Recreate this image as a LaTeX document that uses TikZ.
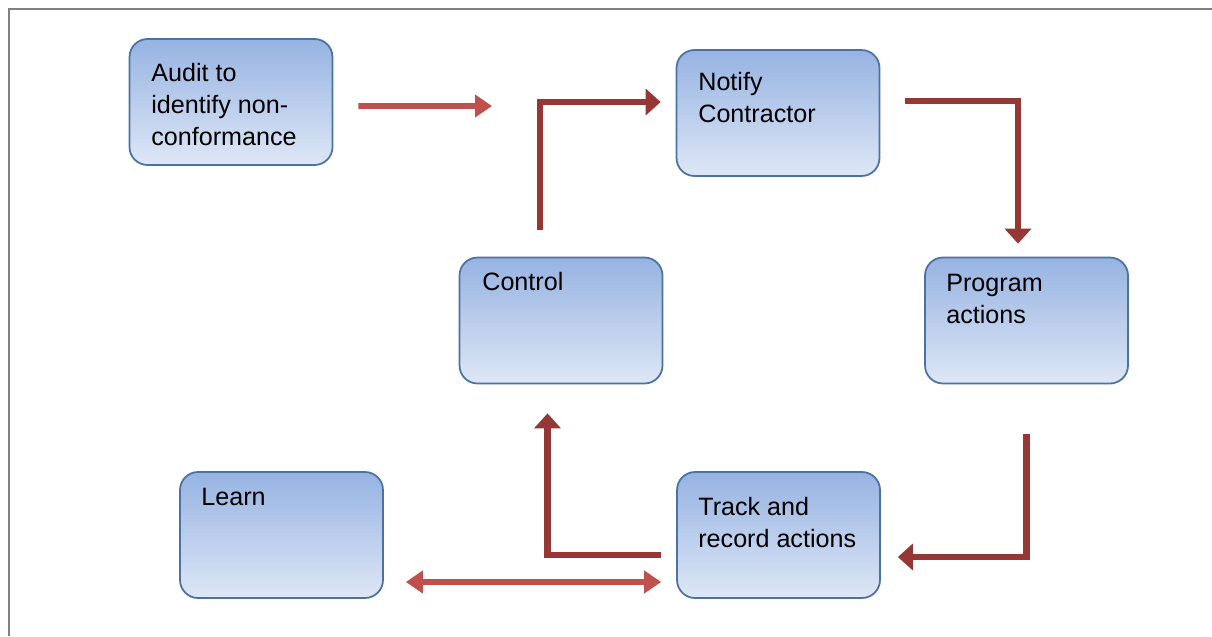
\documentclass[tikz,border=0pt]{standalone}
\usepackage{fontspec}
\setmainfont{Liberation Sans}
\usetikzlibrary{positioning,arrows.meta,calc}
\definecolor{ncTop}{RGB}{150,179,226}
\definecolor{ncBottom}{RGB}{222,231,246}
\definecolor{ncEdge}{RGB}{76,113,163}
\definecolor{ncLight}{RGB}{192,80,77}
\definecolor{ncDark}{RGB}{149,55,53}
\definecolor{ncFrame}{RGB}{128,128,128}

\begin{document}
\begin{tikzpicture}[x=0.02cm, y=-0.02cm,
  stage/.style={rounded corners=0.36cm, draw=ncEdge, line width=1pt,
    top color=ncTop, bottom color=ncBottom,
    minimum width=4.06cm, minimum height=2.52cm, inner sep=0pt},
  stagetext/.style={anchor=north west, align=left, inner sep=0pt,
    font=\fontsize{14.3}{18.2}\selectfont},
  lightarrow/.style={ncLight, line width=3.4pt, -{Triangle[length=0.34cm,width=0.44cm]}},
  darkarrow/.style={ncDark, line width=3.6pt, -{Triangle[length=0.3cm,width=0.52cm]}}]
  \useasboundingbox (0,0) rectangle (1212,636);

  % Frame
  \draw[ncFrame, line width=1.2pt] (9,636) -- (9,9) -- (1212,9);

  % Stages
  \node[stage] (audit)   at (231,102)   {};
  \node[stage] (notify)  at (778,113)   {};
  \node[stage] (control) at (561,320.5) {};
  \node[stage] (program) at (1026.5,320.5) {};
  \node[stage] (learn)   at (281.5,535) {};
  \node[stage] (track)   at (778.5,535) {};

  % Stage texts
  \node[stagetext] (audittxt)   at (151,63)  {Audit to\\identify non-\\conformance};
  \node[stagetext] (notifytxt)  at (698,72)  {Notify\\Contractor};
  \node[stagetext] (controltxt) at (482,272) {Control};
  \node[stagetext] (programtxt) at (946,274) {Program\\actions};
  \node[stagetext] (learntxt)   at (201,488) {Learn};
  \node[stagetext] (tracktxt)   at (698,497) {Track and\\record actions};

  % Cycle
  \coordinate (auditend) at (492,106);
  \draw[lightarrow] ([xshift=0.5cm,yshift=-0.08cm]audit.east) -- (auditend);
  \draw[darkarrow] ([xshift=-0.42cm,yshift=0.54cm]control.north) |- ([xshift=-0.3cm,yshift=0.22cm]notify.west);
  \draw[darkarrow] ([xshift=0.5cm,yshift=0.24cm]notify.east) -| ([xshift=-0.17cm,yshift=0.26cm]program.north);
  \draw[darkarrow] ([yshift=-1.0cm]program.south) |- ([xshift=0.34cm,yshift=-0.44cm]track.east);
  \draw[darkarrow] ([xshift=-0.3cm,yshift=-0.4cm]track.west) -| ([xshift=-0.27cm,yshift=-0.58cm]control.south);
  \draw[lightarrow, {Triangle[length=0.34cm,width=0.44cm]}-{Triangle[length=0.34cm,width=0.44cm]}] ([xshift=0.44cm,yshift=-0.94cm]learn.east) -- ([xshift=-0.3cm,yshift=-0.94cm]track.west);
\end{tikzpicture}
\end{document}
